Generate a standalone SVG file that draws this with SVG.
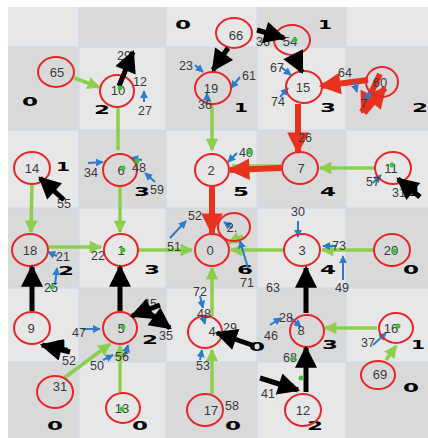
<svg xmlns="http://www.w3.org/2000/svg" width="428" height="438" viewBox="0 0 428 438">
<defs>
<style>
.cl{fill:#e7e7e7}
.cd{fill:#d9d9d9}
.gl{stroke:#c6d9ee;stroke-width:1;fill:none}
.dg{font-family:"DejaVu Sans",sans-serif;font-weight:bold;font-size:12px;fill:#000;text-anchor:middle}
.g{stroke:#8ccf4d;stroke-width:3.5;fill:none;marker-end:url(#ag)}
.gu{stroke:#8ccf4d;stroke-width:3.5;fill:none}
.r{stroke:#e8321e;stroke-width:6;fill:none;marker-end:url(#ar)}
.k{stroke:#000;stroke-width:5;fill:none;marker-end:url(#ak)}
.b{stroke:#2b7bcf;stroke-width:2;fill:none;marker-end:url(#ab)}
.n ellipse{fill:none;stroke:#e8262a;stroke-width:2}
.n text,.lb{font-family:"Liberation Sans",Arial,sans-serif;font-size:13px;fill:#3a3a3a;text-anchor:middle}
.lb{font-size:12.5px}
.dot{fill:#3cc33c}
</style>
<marker id="ag" viewBox="0 0 10 10" refX="9" refY="5" markerWidth="4" markerHeight="3.6" orient="auto"><path d="M0,0L10,5L0,10z" fill="#8ccf4d"/></marker>
<marker id="ar" viewBox="0 0 10 10" refX="9" refY="5" markerWidth="4" markerHeight="3.6" orient="auto"><path d="M0,0L10,5L0,10z" fill="#e8321e"/></marker>
<marker id="ak" viewBox="0 0 10 10" refX="9" refY="5" markerWidth="4.8" markerHeight="4.4" orient="auto"><path d="M0,0L10,5L0,10z" fill="#000"/></marker>
<marker id="ab" viewBox="0 0 10 10" refX="9" refY="5" markerWidth="4" markerHeight="4" orient="auto"><path d="M0,0L10,5L0,10z" fill="#2b7bcf"/></marker>
</defs>
<rect width="428" height="438" fill="#fff"/>
<g id="cells">
<rect class="cl" x="8" y="7" width="71" height="40"/><rect class="cd" x="79" y="7" width="87" height="40"/><rect class="cl" x="166" y="7" width="91" height="40"/><rect class="cd" x="257" y="7" width="89" height="40"/><rect class="cl" x="346" y="7" width="82" height="40"/>
<rect class="cd" x="8" y="47" width="71" height="83"/><rect class="cl" x="79" y="47" width="87" height="83"/><rect class="cd" x="166" y="47" width="91" height="83"/><rect class="cl" x="257" y="47" width="89" height="83"/><rect class="cd" x="346" y="47" width="82" height="83"/>
<rect class="cl" x="8" y="130" width="71" height="78"/><rect class="cd" x="79" y="130" width="87" height="78"/><rect class="cl" x="166" y="130" width="91" height="78"/><rect class="cd" x="257" y="130" width="89" height="78"/><rect class="cl" x="346" y="130" width="82" height="78"/>
<rect class="cd" x="8" y="208" width="71" height="80"/><rect class="cl" x="79" y="208" width="87" height="80"/><rect class="cd" x="166" y="208" width="91" height="80"/><rect class="cl" x="257" y="208" width="89" height="80"/><rect class="cd" x="346" y="208" width="82" height="80"/>
<rect class="cl" x="8" y="288" width="71" height="74"/><rect class="cd" x="79" y="288" width="87" height="74"/><rect class="cl" x="166" y="288" width="91" height="74"/><rect class="cd" x="257" y="288" width="89" height="74"/><rect class="cl" x="346" y="288" width="82" height="74"/>
<rect class="cd" x="8" y="362" width="71" height="76"/><rect class="cl" x="79" y="362" width="87" height="76"/><rect class="cd" x="166" y="362" width="91" height="76"/><rect class="cl" x="257" y="362" width="89" height="76"/><rect class="cd" x="346" y="362" width="82" height="76"/>
<path class="gl" d="M79,7V438M166,7V438M257,7V438M346,7V438M8,47H428M8,130H428M8,208H428M8,288H428M8,362H428"/>
</g>
<g id="cell-digits">
<text class="dg" x="183" y="29" textLength="16" lengthAdjust="spacingAndGlyphs">0</text>
<text class="dg" x="325" y="29" textLength="14" lengthAdjust="spacingAndGlyphs">1</text>
<text class="dg" x="30" y="106" textLength="16" lengthAdjust="spacingAndGlyphs">0</text>
<text class="dg" x="102" y="114" textLength="16" lengthAdjust="spacingAndGlyphs">2</text>
<text class="dg" x="241" y="112" textLength="14" lengthAdjust="spacingAndGlyphs">1</text>
<text class="dg" x="328" y="112" textLength="16" lengthAdjust="spacingAndGlyphs">3</text>
<text class="dg" x="420" y="112" textLength="16" lengthAdjust="spacingAndGlyphs">2</text>
<text class="dg" x="63" y="171" textLength="14" lengthAdjust="spacingAndGlyphs">1</text>
<text class="dg" x="142" y="196" textLength="16" lengthAdjust="spacingAndGlyphs">3</text>
<text class="dg" x="241" y="196" textLength="16" lengthAdjust="spacingAndGlyphs">5</text>
<text class="dg" x="328" y="196" textLength="16" lengthAdjust="spacingAndGlyphs">4</text>
<text class="dg" x="415" y="196" textLength="14" lengthAdjust="spacingAndGlyphs">1</text>
<text class="dg" x="66" y="275" textLength="16" lengthAdjust="spacingAndGlyphs">2</text>
<text class="dg" x="152" y="274" textLength="16" lengthAdjust="spacingAndGlyphs">3</text>
<text class="dg" x="245" y="274" textLength="16" lengthAdjust="spacingAndGlyphs">6</text>
<text class="dg" x="328" y="274" textLength="16" lengthAdjust="spacingAndGlyphs">4</text>
<text class="dg" x="411" y="274" textLength="16" lengthAdjust="spacingAndGlyphs">0</text>
<text class="dg" x="62" y="349" textLength="14" lengthAdjust="spacingAndGlyphs">1</text>
<text class="dg" x="150" y="344" textLength="16" lengthAdjust="spacingAndGlyphs">2</text>
<text class="dg" x="257" y="351" textLength="16" lengthAdjust="spacingAndGlyphs">0</text>
<text class="dg" x="330" y="349" textLength="16" lengthAdjust="spacingAndGlyphs">3</text>
<text class="dg" x="418" y="349" textLength="14" lengthAdjust="spacingAndGlyphs">1</text>
<text class="dg" x="411" y="392" textLength="16" lengthAdjust="spacingAndGlyphs">0</text>
<text class="dg" x="55" y="430" textLength="16" lengthAdjust="spacingAndGlyphs">0</text>
<text class="dg" x="140" y="430" textLength="16" lengthAdjust="spacingAndGlyphs">0</text>
<text class="dg" x="233" y="430" textLength="16" lengthAdjust="spacingAndGlyphs">0</text>
<text class="dg" x="315" y="430" textLength="16" lengthAdjust="spacingAndGlyphs">2</text>
</g>
<g id="connectors">
<path class="g" d="M74,78L99,87"/>
<path class="g" d="M212,104L212,150"/>
<path class="g" d="M374,168L320,168"/>
<path class="g" d="M120,186L120,232"/>
<path class="g" d="M32,184L31,232"/>
<path class="g" d="M48,247L101,247"/>
<path class="g" d="M139,250L192,250"/>
<path class="g" d="M284,250L231,250"/>
<path class="g" d="M374,250L322,250"/>
<path class="g" d="M212,316L212,268"/>
<path class="g" d="M212,394L212,350"/>
<path class="g" d="M377,328L325,328"/>
<path class="g" d="M386,360L396,346"/>
<path class="g" d="M64,378L110,344"/>
<path class="g" d="M120,392L120,346"/>
<path class="g" d="M243,236L229,243"/>
<path class="gu" d="M118,108V150M293,56L302,70M298,104V150M281,166H232M212,187V232M306,313V268M306,392V350M32,311V268M120,311V268"/>
<path class="r" d="M298,104L298,152"/>
<path class="r" d="M281,168L230,170"/>
<path class="r" d="M212,187L212,233"/>
<path class="r" d="M368,80L321,86"/>
<path class="r" d="M380,74L362,112"/>
<path class="r" d="M364,113L385,88"/>
<path class="b" d="M195,65L203,72"/>
<path class="b" d="M207,101L207,93"/>
<path class="b" d="M144,102L144,91"/>
<path class="b" d="M240,77L231,88"/>
<path class="b" d="M281,67L291,75"/>
<path class="b" d="M280,97L288,88"/>
<path class="b" d="M354,82L357,92"/>
<path class="b" d="M364,99L372,92"/>
<path class="b" d="M237,153L228,162"/>
<path class="b" d="M88,163L103,162"/>
<path class="b" d="M142,160L131,158"/>
<path class="b" d="M155,182L145,173"/>
<path class="b" d="M170,238L186,221"/>
<path class="b" d="M57,256L48,252"/>
<path class="b" d="M55,285L57,268"/>
<path class="b" d="M298,221L298,237"/>
<path class="b" d="M337,246L323,246"/>
<path class="b" d="M343,280L343,256"/>
<path class="b" d="M373,183L381,175"/>
<path class="b" d="M248,268L240,241"/>
<path class="b" d="M232,228L224,222"/>
<path class="b" d="M200,296L203,308"/>
<path class="b" d="M203,317L205,324"/>
<path class="b" d="M200,360L202,350"/>
<path class="b" d="M270,325L281,318"/>
<path class="b" d="M290,317L301,327"/>
<path class="b" d="M373,345L386,333"/>
<path class="b" d="M82,329L100,329"/>
<path class="b" d="M103,360L113,355"/>
<path class="b" d="M125,356L128,345"/>
<path class="b" d="M284,380L296,390"/>
</g>
<g id="node-65" class="n"><ellipse cx="56" cy="72" rx="18" ry="15"/><text x="57" y="77">65</text></g>
<g id="node-10" class="n"><ellipse cx="117" cy="91" rx="17" ry="16"/><text x="118" y="95">10</text></g>
<g id="node-66" class="n"><ellipse cx="234" cy="33" rx="18" ry="15"/><text x="236" y="40">66</text></g>
<g id="node-54" class="n"><ellipse cx="292" cy="40" rx="18" ry="15"/><text x="290" y="46">54</text></g>
<g id="node-19" class="n"><ellipse cx="213" cy="88" rx="18" ry="16"/><text x="211" y="93">19</text></g>
<g id="node-15" class="n"><ellipse cx="304" cy="87" rx="18" ry="16"/><text x="303" y="92">15</text></g>
<g id="node-60" class="n"><ellipse cx="382" cy="82" rx="16" ry="15"/><text x="380" y="87">60</text></g>
<g id="node-14" class="n"><ellipse cx="32" cy="168" rx="18" ry="16"/><text x="32" y="173">14</text></g>
<g id="node-6" class="n"><ellipse cx="120" cy="170" rx="17" ry="16"/><text x="121" y="175">6</text></g>
<g id="node-2" class="n"><ellipse cx="212" cy="170" rx="17" ry="16"/><text x="211" y="175">2</text></g>
<g id="node-7" class="n"><ellipse cx="300" cy="168" rx="18" ry="16"/><text x="301" y="173">7</text></g>
<g id="node-11" class="n"><ellipse cx="393" cy="168" rx="18" ry="16"/><text x="391" y="173">11</text></g>
<g id="node-18" class="n"><ellipse cx="30" cy="250" rx="18" ry="16"/><text x="30" y="255">18</text></g>
<g id="node-1" class="n"><ellipse cx="121" cy="250" rx="17" ry="16"/><text x="121" y="255">1</text></g>
<g id="node-0" class="n"><ellipse cx="212" cy="250" rx="17" ry="16"/><text x="210" y="255">0</text></g>
<g id="node-2b" class="n"><ellipse cx="234" cy="227" rx="16" ry="14"/><text x="232" y="232">2.</text></g>
<g id="node-3" class="n"><ellipse cx="302" cy="250" rx="18" ry="16"/><text x="302" y="255">3</text></g>
<g id="node-20" class="n"><ellipse cx="392" cy="250" rx="18" ry="16"/><text x="391" y="255">20</text></g>
<g id="node-9" class="n"><ellipse cx="32" cy="328" rx="18" ry="16"/><text x="31" y="333">9</text></g>
<g id="node-5" class="n"><ellipse cx="120" cy="328" rx="17" ry="16"/><text x="121" y="333">5</text></g>
<g id="node-4" class="n"><ellipse cx="205" cy="332" rx="17" ry="16"/><text x="212" y="336">4</text></g>
<g id="node-8" class="n"><ellipse cx="307" cy="331" rx="17" ry="16"/><text x="301" y="335">8</text></g>
<g id="node-16" class="n"><ellipse cx="396" cy="328" rx="17" ry="15"/><text x="391" y="333">16</text></g>
<g id="node-69" class="n"><ellipse cx="378" cy="375" rx="17" ry="14"/><text x="380" y="379">69</text></g>
<g id="node-31" class="n"><ellipse cx="55" cy="392" rx="18" ry="16"/><text x="60" y="391">31</text></g>
<g id="node-13" class="n"><ellipse cx="123" cy="408" rx="17" ry="15"/><text x="122" y="413">13</text></g>
<g id="node-17" class="n"><ellipse cx="205" cy="410" rx="18" ry="16"/><text x="211" y="415">17</text></g>
<g id="node-12" class="n"><ellipse cx="303" cy="410" rx="18" ry="16"/><text x="303" y="415">12</text></g>
<g id="edge-labels">
<text class="lb" x="124" y="60">29</text>
<text class="lb" x="140" y="86">12</text>
<text class="lb" x="145" y="115">27</text>
<text class="lb" x="186" y="70">23</text>
<text class="lb" x="205" y="109">36</text>
<text class="lb" x="249" y="80">61</text>
<text class="lb" x="263" y="46">36</text>
<text class="lb" x="277" y="72">67</text>
<text class="lb" x="278" y="106">74</text>
<text class="lb" x="345" y="77">64</text>
<text class="lb" x="364" y="108">7</text>
<text class="lb" x="305" y="142">26</text>
<text class="lb" x="246" y="157">40</text>
<text class="lb" x="91" y="177">34</text>
<text class="lb" x="139" y="172">48</text>
<text class="lb" x="157" y="194">59</text>
<text class="lb" x="64" y="208">55</text>
<text class="lb" x="373" y="186">57</text>
<text class="lb" x="399" y="197">31</text>
<text class="lb" x="195" y="220">52</text>
<text class="lb" x="174" y="251">51</text>
<text class="lb" x="98" y="260">22</text>
<text class="lb" x="63" y="261">21</text>
<text class="lb" x="51" y="292">25</text>
<text class="lb" x="298" y="216">30</text>
<text class="lb" x="339" y="250">73</text>
<text class="lb" x="342" y="292">49</text>
<text class="lb" x="247" y="287">71</text>
<text class="lb" x="273" y="292">63</text>
<text class="lb" x="200" y="296">72</text>
<text class="lb" x="204" y="318">48</text>
<text class="lb" x="230" y="332">29</text>
<text class="lb" x="203" y="370">53</text>
<text class="lb" x="232" y="410">58</text>
<text class="lb" x="271" y="340">46</text>
<text class="lb" x="286" y="322">28</text>
<text class="lb" x="290" y="362">68</text>
<text class="lb" x="268" y="398">41</text>
<text class="lb" x="368" y="347">37</text>
<text class="lb" x="79" y="337">47</text>
<text class="lb" x="97" y="370">50</text>
<text class="lb" x="122" y="361">56</text>
<text class="lb" x="166" y="340">35</text>
<text class="lb" x="150" y="308">45</text>
<text class="lb" x="69" y="365">52</text>
</g>
<g id="black-connectors">
<path class="k" d="M119,86L133,52"/>
<path class="k" d="M228,48L213,70"/>
<path class="k" d="M294,56L302,72"/>
<path class="k" d="M257,30L284,38"/>
<path class="k" d="M306,313L306,268"/>
<path class="k" d="M306,392L306,348"/>
<path class="k" d="M32,311L32,267"/>
<path class="k" d="M120,311L120,267"/>
<path class="k" d="M64,200L40,178"/>
<path class="k" d="M70,352L42,345"/>
<path class="k" d="M160,305L132,316"/>
<path class="k" d="M145,310L170,328"/>
<path class="k" d="M252,345L217,333"/>
<path class="k" d="M260,378L298,390"/>
<path class="k" d="M420,197L398,179"/>
</g>
<g id="dots">
<circle class="dot" cx="120" cy="88" r="2.5"/><circle class="dot" cx="123" cy="168" r="2.5"/><circle class="dot" cx="123" cy="250" r="2.5"/><circle class="dot" cx="394" cy="251" r="2.5"/><circle class="dot" cx="392" cy="165" r="2.5"/><circle class="dot" cx="398" cy="326" r="2.5"/><circle class="dot" cx="123" cy="327" r="2.5"/><circle class="dot" cx="122" cy="409" r="2.5"/><circle class="dot" cx="295" cy="40" r="2.5"/><circle class="dot" cx="293" cy="358" r="2.5"/><circle class="dot" cx="301" cy="378" r="2.5"/><circle class="dot" cx="52" cy="287" r="2.5"/><circle class="dot" cx="250" cy="152" r="2.5"/><circle class="dot" cx="137" cy="161" r="2.5"/>
</g>
</svg>
